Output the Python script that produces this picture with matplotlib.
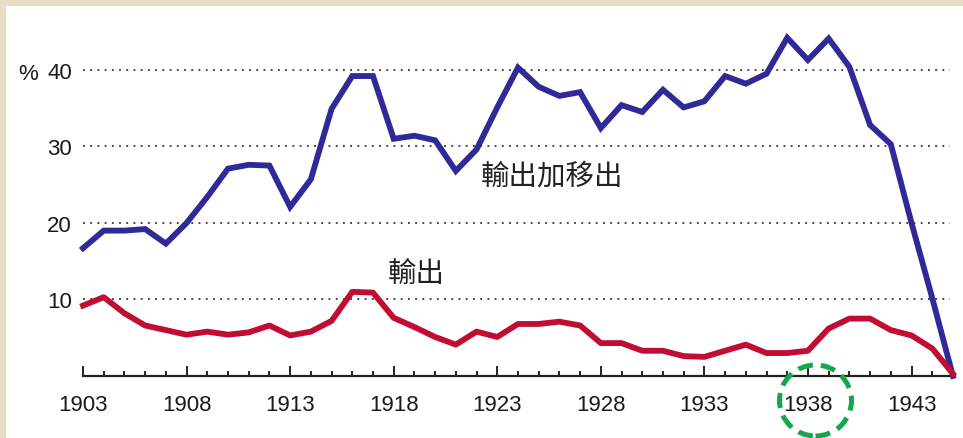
import matplotlib
matplotlib.use("Agg")
import matplotlib.pyplot as plt
from matplotlib.patches import Rectangle, Ellipse

plt.rcParams['font.family'] = ['Liberation Sans', 'Noto Sans CJK TC', 'DejaVu Sans']

years = list(range(1903, 1946))

# 輸出加移出 (export + emigration share, %)
export_plus = [16.7, 19.0, 19.0, 19.2, 17.3, 20.0, 23.4, 27.1, 27.6, 27.5,
               22.1, 25.7, 34.9, 39.2, 39.2, 31.0, 31.4, 30.8, 26.8, 29.6,
               35.1, 40.3, 37.8, 36.6, 37.1, 32.4, 35.4, 34.5, 37.4, 35.1,
               35.9, 39.2, 38.2, 39.5, 44.2, 41.3, 44.1, 40.4, 32.8, 30.3,
               20.0, 10.2, 0.0]

# 輸出 (export share, %)
export_only = [9.2, 10.3, 8.2, 6.6, 6.0, 5.4, 5.8, 5.4, 5.7, 6.6,
               5.3, 5.8, 7.2, 11.0, 10.9, 7.6, 6.4, 5.1, 4.1, 5.8,
               5.1, 6.8, 6.8, 7.1, 6.6, 4.3, 4.3, 3.3, 3.3, 2.6,
               2.5, 3.3, 4.1, 3.0, 3.0, 3.3, 6.2, 7.5, 7.5, 6.0,
               5.3, 3.6, 0.3]

y_ticks = [10, 20, 30, 40]
x_major = [1903, 1908, 1913, 1918, 1923, 1928, 1933, 1938, 1943]

W, H = 963, 439
fig = plt.figure(figsize=(W / 100, H / 100), dpi=100)
fig.patch.set_facecolor('#e8dec8')
fig.patches.append(Rectangle((6 / W, 0), 1, 1 - 7 / H, transform=fig.transFigure,
                             facecolor='white', edgecolor='none', zorder=-5))

ax = fig.add_axes([83 / W, (H - 377) / H, (955 - 83) / W, (377 - 25) / H])
ax.set_facecolor('none')

ax.plot(years, export_plus, color='#2f2a98', lw=4.2, solid_joinstyle='miter',
        clip_on=False, zorder=3)
ax.plot(years, export_only, color='#c10d32', lw=4.2, solid_joinstyle='round',
        clip_on=False, zorder=3)

ax.set_xlim(1903, 1945.1)
ax.set_ylim(0, 46)

for v in y_ticks:
    ax.axhline(v, xmin=0, xmax=(950 - 83) / (955 - 83), color='#333333',
               lw=1.3, ls=(0, (1, 3.0)), zorder=1)

ax.set_yticks(y_ticks)
ax.set_yticklabels([str(v) for v in y_ticks])
ax.tick_params(axis='y', length=0, pad=8, labelsize=16, labelcolor='#1a1a1a')

ax.set_xticks(x_major)
ax.set_xticks(years, minor=True)
ax.tick_params(axis='x', which='major', direction='in', length=7, width=1.2,
               pad=13, labelsize=16, labelcolor='#1a1a1a')
ax.tick_params(axis='x', which='minor', direction='in', length=3.5, width=1.2)

for s in ['left', 'right', 'top']:
    ax.spines[s].set_visible(False)
ax.spines['bottom'].set_linewidth(1.6)
ax.spines['bottom'].set_color('#222222')

fig.text(28 / W, 1 - 74 / H, '%', fontsize=16, color='#1a1a1a',
         ha='center', va='center')

ax.text(1925.66, 26.2, '輸出加移出', fontsize=20.5, color='#222222',
        ha='center', va='center', family=['Noto Sans CJK TC'], fontweight=300)
ax.text(1919.1, 13.5, '輸出', fontsize=20.5, color='#222222',
        ha='center', va='center', family=['Noto Sans CJK TC'], fontweight=300)

circle = Ellipse((815.5 / W, 1 - 401.5 / H), 72 / W, 71 / H,
                 transform=fig.transFigure, fill=False, edgecolor='#14a84c',
                 lw=3.6, ls=(0, (3, 1.6)), zorder=5)
fig.patches.append(circle)

fig.savefig('out.png', dpi=100, facecolor=fig.get_facecolor())
